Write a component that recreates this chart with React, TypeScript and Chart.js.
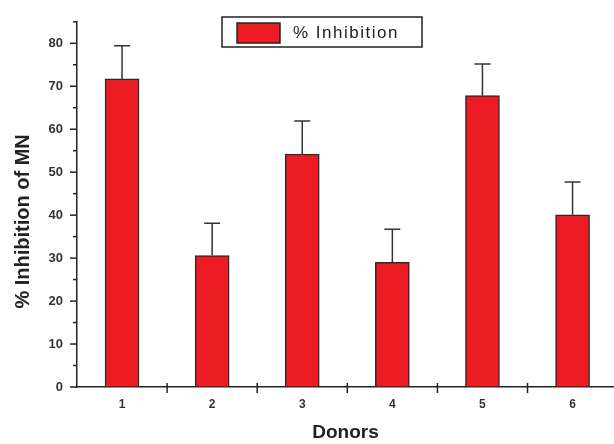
import React, { useEffect, useRef } from 'react';
import { Chart, registerables } from 'chart.js';

Chart.register(...registerables);

const donors = ['1', '2', '3', '4', '5', '6'];
const inhibition = [71.7, 30.6, 54.2, 29.0, 67.8, 40.1];
const inhibitionSD = [7.7, 7.5, 7.7, 7.7, 7.4, 7.6];
const yTickValues = [0, 10, 20, 30, 40, 50, 60, 70, 80];
const yMinorTickValues = [5, 15, 25, 35, 45, 55, 65, 75, 85];
const seriesLabel = '% Inhibition';
const xTitle = 'Donors';
const yTitle = '% Inhibition of MN';

const AXIS_COLOR = '#222';
const BAR_COLOR = '#ED1C24';

const decorPlugin = {
  id: 'decor',
  afterDatasetsDraw(chart: any) {
    const ctx = chart.ctx;
    const xs = chart.scales.x;
    const ys = chart.scales.y;
    ctx.save();
    ctx.strokeStyle = '#333';
    ctx.lineWidth = 1.5;
    donors.forEach((d, i) => {
      const x = xs.getPixelForValue(Number(d));
      const yBar = ys.getPixelForValue(inhibition[i]);
      const yTop = ys.getPixelForValue(inhibition[i] + inhibitionSD[i]);
      ctx.beginPath();
      ctx.moveTo(x, yBar);
      ctx.lineTo(x, yTop);
      ctx.moveTo(x - 8, yTop);
      ctx.lineTo(x + 8, yTop);
      ctx.stroke();
    });
    ctx.restore();
  },
  afterDraw(chart: any) {
    const ctx = chart.ctx;
    const xs = chart.scales.x;
    const ys = chart.scales.y;
    const area = chart.chartArea;
    ctx.save();
    ctx.strokeStyle = AXIS_COLOR;
    ctx.lineWidth = 1.5;
    // y axis ticks
    const ax = area.left;
    yTickValues.forEach((v) => {
      const y = ys.getPixelForValue(v);
      ctx.beginPath();
      ctx.moveTo(ax - 7, y);
      ctx.lineTo(ax, y);
      ctx.stroke();
    });
    yMinorTickValues.forEach((v) => {
      const y = ys.getPixelForValue(v);
      ctx.beginPath();
      ctx.moveTo(ax - 4, y);
      ctx.lineTo(ax, y);
      ctx.stroke();
    });
    // x axis ticks between donors
    const ay = area.bottom;
    donors.slice(0, -1).forEach((d) => {
      const x = xs.getPixelForValue(Number(d) + 0.5);
      ctx.beginPath();
      ctx.moveTo(x, ay - 4);
      ctx.lineTo(x, ay + 6);
      ctx.stroke();
    });
    // y title
    ctx.fillStyle = AXIS_COLOR;
    ctx.font = 'bold 20px "Liberation Sans", Arial, sans-serif';
    ctx.textAlign = 'center';
    ctx.textBaseline = 'middle';
    ctx.translate(23, (area.top + area.bottom) / 2 + 17);
    ctx.rotate(-Math.PI / 2);
    ctx.fillText(yTitle, 0, 0);
    ctx.restore();

    // legend
    ctx.save();
    ctx.fillStyle = '#fff';
    ctx.fillRect(222, 17, 200, 30);
    ctx.strokeStyle = AXIS_COLOR;
    ctx.lineWidth = 1.5;
    ctx.strokeRect(222, 17, 200, 30);
    ctx.fillStyle = BAR_COLOR;
    ctx.fillRect(237, 23, 43, 20);
    ctx.strokeRect(237, 23, 43, 20);
    ctx.fillStyle = '#222';
    ctx.font = '17px "Liberation Sans", Arial, sans-serif';
    (ctx as any).letterSpacing = '1.5px';
    ctx.textAlign = 'left';
    ctx.textBaseline = 'middle';
    ctx.fillText(chart.data.datasets[0].label, 293, 33);
    ctx.restore();
  },
};

export default function App() {
  const ref = useRef<HTMLCanvasElement>(null);
  useEffect(() => {
    if (!ref.current) return;
    const chart = new Chart(ref.current, {
      type: 'bar',
      data: {
        datasets: [
          {
            label: seriesLabel,
            data: inhibition.map((v, i) => ({ x: Number(donors[i]), y: v })),
            backgroundColor: BAR_COLOR,
            borderColor: '#2a2a2a',
            borderWidth: 1.5,
            barThickness: 34,
          },
        ],
      },
      options: {
        responsive: false,
        devicePixelRatio: 1,
        animation: false,
        layout: { padding: { top: 18, left: 0, right: 0, bottom: 0 } },
        plugins: {
          legend: { display: false },
          tooltip: { enabled: false },
        },
        scales: {
          x: {
            type: 'linear',
            offset: false,
            min: 0.5,
            max: 6.46,
            afterBuildTicks: (s: any) => {
              s.ticks = donors.map((d) => ({ value: Number(d) }));
            },
            afterFit: (s: any) => {
              s.height = 57;
            },
            grid: { display: true, drawOnChartArea: false, drawTicks: false, offset: false },
            border: { display: true, color: AXIS_COLOR, width: 1.5 },
            ticks: {
              autoSkip: false,
              maxRotation: 0,
              padding: 10,
              color: '#333',
              font: { family: '"Liberation Sans", Arial, sans-serif', size: 12, weight: 'bold' },
              callback: (_v: any, i: number) => donors[i],
            },
            title: {
              display: true,
              text: xTitle,
              color: AXIS_COLOR,
              font: { family: '"Liberation Sans", Arial, sans-serif', size: 19, weight: 'bold' },
              padding: { top: 0, bottom: 0 },
            },
          },
          y: {
            min: 0,
            max: 85,
            afterBuildTicks: (s: any) => {
              s.ticks = yTickValues.map((v) => ({ value: v }));
            },
            afterFit: (s: any) => {
              s.width = 77;
            },
            grid: { display: true, drawOnChartArea: false, drawTicks: false },
            border: { display: true, color: AXIS_COLOR, width: 1.5 },
            ticks: {
              padding: 14,
              color: '#333',
              font: { family: '"Liberation Sans", Arial, sans-serif', size: 13, weight: 'bold' },
            },
          },
        },
      },
      plugins: [decorPlugin],
    } as any);
    return () => chart.destroy();
  }, []);
  return (
    <div style={{ position: 'absolute', left: 0, top: 0, width: 614, height: 444, background: '#fff' }}>
      <canvas ref={ref} width={614} height={444} />
    </div>
  );
}
